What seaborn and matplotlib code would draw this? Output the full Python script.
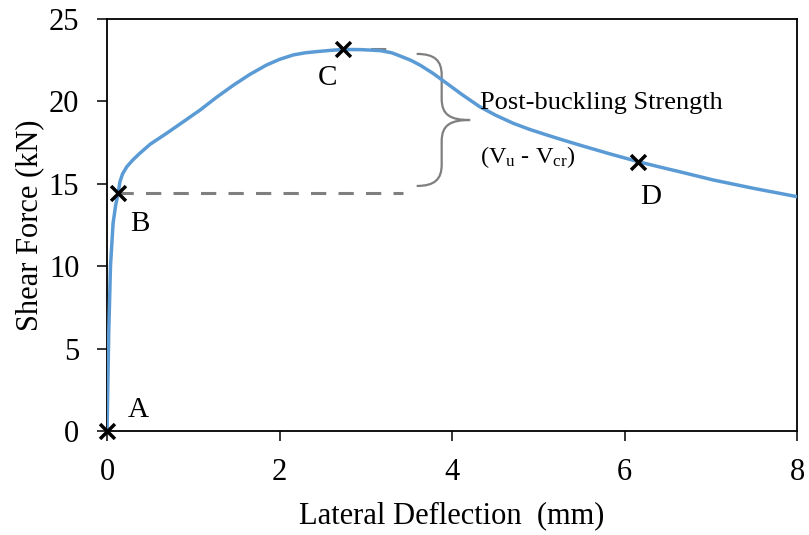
import numpy as np
import pandas as pd
import matplotlib
matplotlib.use("Agg")
import matplotlib.pyplot as plt
from matplotlib.path import Path
from matplotlib.patches import PathPatch
import seaborn as sns

# Load–deflection response of the web panel
deflection = [0.0, 0.01, 0.02, 0.04, 0.07, 0.10, 0.13, 0.15, 0.18, 0.23, 0.30, 0.38,
              0.50, 0.69, 0.88, 1.08, 1.27, 1.47, 1.66, 1.85, 2.00, 2.16, 2.30, 2.43,
              2.60, 2.74, 2.95, 3.17, 3.30, 3.40, 3.52, 3.63, 3.78, 3.94, 4.12, 4.32,
              4.51, 4.71, 4.90, 5.10, 5.29, 5.48, 5.82, 6.16, 6.40, 6.64, 7.03, 7.50, 8.0]
shear_force = [0.0, 3.0, 6.0, 10.0, 12.6, 13.7, 14.45, 15.13, 15.6, 16.04, 16.45, 16.85,
               17.40, 18.06, 18.75, 19.48, 20.25, 21.00, 21.65, 22.21, 22.55, 22.82, 22.95, 23.02,
               23.10, 23.15, 23.14, 23.08, 22.95, 22.75, 22.50, 22.20, 21.70, 21.09, 20.40, 19.68,
               19.15, 18.67, 18.30, 17.96, 17.65, 17.35, 16.83, 16.34, 16.03, 15.73, 15.23, 14.72, 14.22]

# Key stages of the response
stage_labels = ["A", "B", "C", "D"]
stage_x = [0.0, 0.13, 2.74, 6.16]
stage_y = [0.0, 14.45, 23.15, 16.34]
label_x = [0.36, 0.38, 2.56, 6.30]
label_y = [1.27, 12.56, 21.42, 14.20]

x_ticks = [0, 2, 4, 6, 8]
y_ticks = [0, 5, 10, 15, 20, 25]

sns.set_theme(style="ticks")
plt.rcParams["font.family"] = ["Liberation Serif", "DejaVu Serif"]
plt.rcParams["mathtext.fontset"] = "custom"
plt.rcParams["mathtext.rm"] = "Liberation Serif"
plt.rcParams["mathtext.it"] = "Liberation Serif:italic"

fig = plt.figure(figsize=(8.09, 5.35), dpi=100)
ax = fig.add_axes([0.1323, 0.1944, 0.8529, 0.7701])

curve = pd.DataFrame({"deflection": deflection, "shear": shear_force})
sns.lineplot(data=curve, x="deflection", y="shear", ax=ax, sort=False,
             estimator=None, color="#5B9BD5", linewidth=2.5, zorder=3)

# Critical and ultimate load levels
ax.plot([stage_x[1], 3.43], [stage_y[1], stage_y[1]], color="#7F7F7F",
        linewidth=2.2, dashes=(5, 4), zorder=2)
ax.plot([stage_x[2], 3.37], [stage_y[2], stage_y[2]], color="#7F7F7F",
        linewidth=2.2, dashes=(5, 4), zorder=2)

stages = pd.DataFrame({"x": stage_x, "y": stage_y})
sns.scatterplot(data=stages, x="x", y="y", ax=ax, marker="x", s=115,
                color="black", linewidth=2.5, zorder=5, clip_on=False)

for lab, lx, ly in zip(stage_labels, label_x, label_y):
    ax.text(lx, ly, lab, fontsize=21, ha="center", va="center", color="black")

# Curly brace spanning the post-buckling reserve
top, bot, tip = 22.88, 14.87, 18.87
x0, xm, xt = 3.59, 3.88, 4.21
verts = [
    (x0, top), (3.80, top), (xm, top - 0.4), (xm, top - 1.3),
    (xm, tip + 1.3),
    (xm, tip + 0.3), (3.98, tip), (xt, tip),
    (3.98, tip), (xm, tip - 0.3), (xm, tip - 1.3),
    (xm, bot + 1.3),
    (xm, bot + 0.4), (3.80, bot), (x0, bot),
]
codes = [Path.MOVETO, Path.CURVE4, Path.CURVE4, Path.CURVE4,
         Path.LINETO,
         Path.CURVE4, Path.CURVE4, Path.CURVE4,
         Path.CURVE4, Path.CURVE4, Path.CURVE4,
         Path.LINETO,
         Path.CURVE4, Path.CURVE4, Path.CURVE4]
ax.add_patch(PathPatch(Path(verts, codes), facecolor="none",
                       edgecolor="#7F7F7F", linewidth=1.6, zorder=2))

ax.text(4.32, 19.88, "Post-buckling Strength", fontsize=19,
        ha="left", va="center", color="black")
ax.text(4.32, 16.65, r"(V$_{\mathrm{u}}$ - V$_{\mathrm{cr}}$)", fontsize=17.5,
        ha="left", va="center", color="black")

ax.set_xlim(0, 8)
ax.set_ylim(0, 25)
ax.set_xticks(x_ticks)
ax.set_yticks(y_ticks)
ax.tick_params(axis="both", which="major", labelsize=22, direction="out",
               length=7, width=1.1, color="black", labelcolor="black")
ax.tick_params(axis="x", pad=12.5)
ax.tick_params(axis="y", pad=13)
ax.set_xlabel("Lateral Deflection  (mm)", fontsize=22, labelpad=10, color="black")
ax.set_ylabel("Shear Force (kN)", fontsize=22, labelpad=3, color="black")

for side in ["top", "right", "bottom", "left"]:
    ax.spines[side].set_visible(True)
    ax.spines[side].set_color("black")
    ax.spines[side].set_linewidth(1.3)

fig.savefig("out.png", dpi=100, facecolor="white")
